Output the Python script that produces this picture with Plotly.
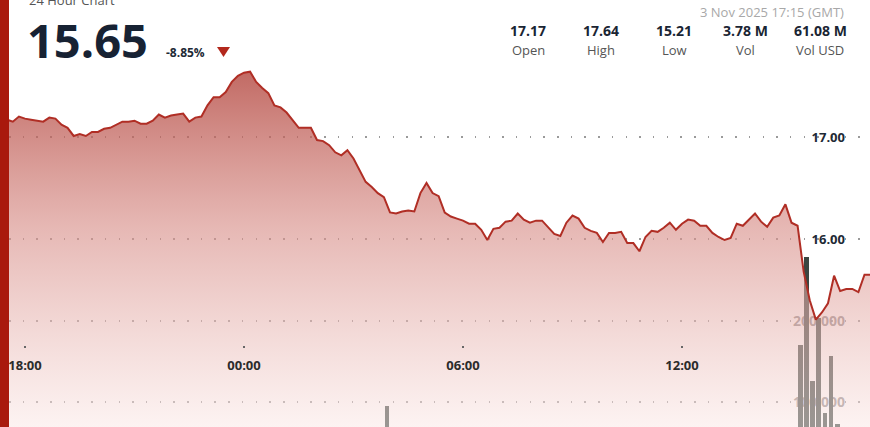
import plotly.graph_objects as go
import pandas as pd

# ---------------- data ----------------
price_start = "2025-11-02 17:30"
prices = [
    17.17, 17.15, 17.20, 17.18, 17.17, 17.16, 17.15, 17.19, 17.18, 17.12,
    17.09, 17.01, 17.03, 17.01, 17.05, 17.05, 17.08, 17.09, 17.12, 17.15,
    17.15, 17.16, 17.13, 17.13, 17.16, 17.22, 17.19, 17.21, 17.22, 17.23,
    17.15, 17.19, 17.20, 17.31, 17.39, 17.39, 17.44, 17.54, 17.60, 17.63,
    17.64, 17.54, 17.48, 17.43, 17.31, 17.29, 17.24, 17.16, 17.09, 17.09,
    17.09, 16.97, 16.96, 16.92, 16.85, 16.82, 16.87, 16.79, 16.68, 16.56,
    16.51, 16.45, 16.41, 16.26, 16.25, 16.27, 16.28, 16.27, 16.45, 16.55,
    16.45, 16.42, 16.26, 16.22, 16.20, 16.18, 16.15, 16.15, 16.09, 15.99,
    16.10, 16.11, 16.17, 16.18, 16.25, 16.19, 16.16, 16.18, 16.18, 16.12,
    16.05, 16.03, 16.16, 16.23, 16.20, 16.11, 16.08, 16.06, 15.97, 16.06,
    16.06, 16.07, 15.96, 15.96, 15.88, 16.02, 16.08, 16.07, 16.11, 16.16,
    16.09, 16.15, 16.19, 16.18, 16.13, 16.13, 16.06, 16.02, 15.99, 16.01,
    16.15, 16.13, 16.19, 16.25, 16.17, 16.12, 16.21, 16.23, 16.34, 16.16,
    16.13, 15.68, 15.40, 15.21, 15.28, 15.37, 15.64, 15.49, 15.51, 15.51,
    15.48, 15.65, 15.65,
]
price_times = pd.date_range(price_start, periods=len(prices), freq="10min")

vol_times = [
    "2025-11-03 03:50", "2025-11-03 15:10", "2025-11-03 15:20", "2025-11-03 15:30",
    "2025-11-03 15:40", "2025-11-03 15:50", "2025-11-03 16:00", "2025-11-03 16:10",
]
vol_values = [95000, 170000, 279000, 126000, 204000, 86000, 157000, 73000]

price_ticks = [16, 17]
price_tick_labels = ["16.00", "17.00"]
vol_ticks = [100000, 200000]
vol_tick_labels = ["100,000", "200,000"]
time_ticks = ["2025-11-02 18:00", "2025-11-03 00:00", "2025-11-03 06:00", "2025-11-03 12:00"]
time_tick_labels = ["18:00", "00:00", "06:00", "12:00"]

title_text = "24 Hour Chart"
last_price = "15.65"
change_pct = "-8.85%"
stamp_text = "3 Nov 2025 17:15 (GMT)"
stat_values = ["17.17", "17.64", "15.21", "3.78 M", "61.08 M"]
stat_labels = ["Open", "High", "Low", "Vol", "Vol USD"]

# ---------------- layout helpers ----------------
W, H, L = 870, 427, 9
FONT = "Open Sans"


def px(x):
    return (x - L) / (W - L)


def py(y):
    return 1 - y / H


fig = go.Figure()

# volume bars (main y axis, drawn first so the area sits on top)
fig.add_trace(go.Bar(
    x=vol_times, y=vol_values, xaxis="x", yaxis="y",
    xperiod=600000, xperiodalignment="middle", width=480000,
    marker=dict(color="#3a4641", line=dict(width=0)),
    hoverinfo="skip",
))

# price area (overlay axis)
fig.add_trace(go.Scatter(
    x=price_times, y=prices, xaxis="x", yaxis="y2", mode="lines",
    line=dict(color="#b02e25", width=2),
    fill="tozeroy",
    fillgradient=dict(
        type="vertical", start=14.157, stop=17.7,
        colorscale=[[0, "rgba(250,230,228,0.5)"],
                    [0.55, "rgba(215,140,134,0.62)"],
                    [1, "rgba(176,64,56,0.80)"]],
    ),
    hoverinfo="skip",
))

dotgrid = dict(showgrid=True, gridcolor="#9a9a9a", gridwidth=1.5, griddash="1.5px,12.2px")

fig.update_layout(
    width=W, height=H,
    margin=dict(l=L, r=0, t=0, b=0),
    paper_bgcolor="white", plot_bgcolor="rgba(0,0,0,0)",
    showlegend=False, bargap=0,
    font=dict(family=FONT),
    xaxis=dict(
        type="date",
        range=["2025-11-02 17:33:42", "2025-11-03 17:09:03"],
        tickvals=time_ticks, ticktext=time_tick_labels,
        anchor="free", position=py(345), side="bottom",
        ticks="outside", ticklen=2, tickwidth=2, tickcolor="#666",
        ticklabelstandoff=6,
        tickfont=dict(size=13, color="#2b2b2b", weight="bold"),
        showgrid=False, showline=False, zeroline=False,
    ),
    yaxis=dict(
        range=[69136, 596296],
        tickvals=vol_ticks, ticktext=vol_tick_labels,
        side="right", ticklabelposition="inside", ticks="",
        ticklabelstandoff=22,
        layer="below traces",
        tickfont=dict(size=14, color="rgba(125,120,120,0.85)", weight="bold"),
        showline=False, zeroline=False, **dotgrid,
    ),
    yaxis2=dict(
        range=[14.157, 18.343], overlaying="y",
        tickvals=price_ticks, ticktext=price_tick_labels,
        side="right", ticklabelposition="inside", ticks="",
        ticklabelstandoff=22,
        tickfont=dict(size=13, color="#1e2a36", weight="bold"),
        showline=False, zeroline=False, **dotgrid,
    ),
)

# left red band
fig.add_shape(type="rect", xref="paper", yref="paper",
              x0=px(0), x1=px(L), y0=0, y1=1,
              fillcolor="#a9190d", line=dict(width=0), layer="above")

# down triangle
fig.add_shape(type="path", xref="paper", yref="paper",
              path=f"M {px(217)} {py(47)} L {px(230)} {py(47)} L {px(223.5)} {py(57)} Z",
              fillcolor="#b3281c", line=dict(width=0))

ann = []
ann.append(dict(text=title_text, x=px(27), y=py(0), xanchor="left", yanchor="middle",
                font=dict(size=13, color="#555")))
ann.append(dict(text=last_price, x=px(25), y=py(40), xanchor="left", yanchor="middle",
                font=dict(size=47, color="#172233", weight="bold")))
ann.append(dict(text=change_pct, x=px(164), y=py(52), xanchor="left", yanchor="middle",
                font=dict(size=12, color="#1e2a36", weight="bold")))
ann.append(dict(text=stamp_text, x=px(846), y=py(12), xanchor="right", yanchor="middle",
                font=dict(size=13, color="#a8a8a8")))
stat_x = [528, 601, 674, 745, 820]
for cx, v, lab in zip(stat_x, stat_values, stat_labels):
    ann.append(dict(text=v, x=px(cx), y=py(31), xanchor="center", yanchor="middle",
                    font=dict(size=14, color="#1a2533", weight="bold")))
    ann.append(dict(text=lab, x=px(cx), y=py(50), xanchor="center", yanchor="middle",
                    font=dict(size=13, color="#555")))
for a in ann:
    a.update(xref="paper", yref="paper", showarrow=False)
fig.update_layout(annotations=ann)

fig.write_html("out.html", config={"displayModeBar": False},
               post_script="document.body.style.margin='0';document.body.style.overflow='hidden';")
